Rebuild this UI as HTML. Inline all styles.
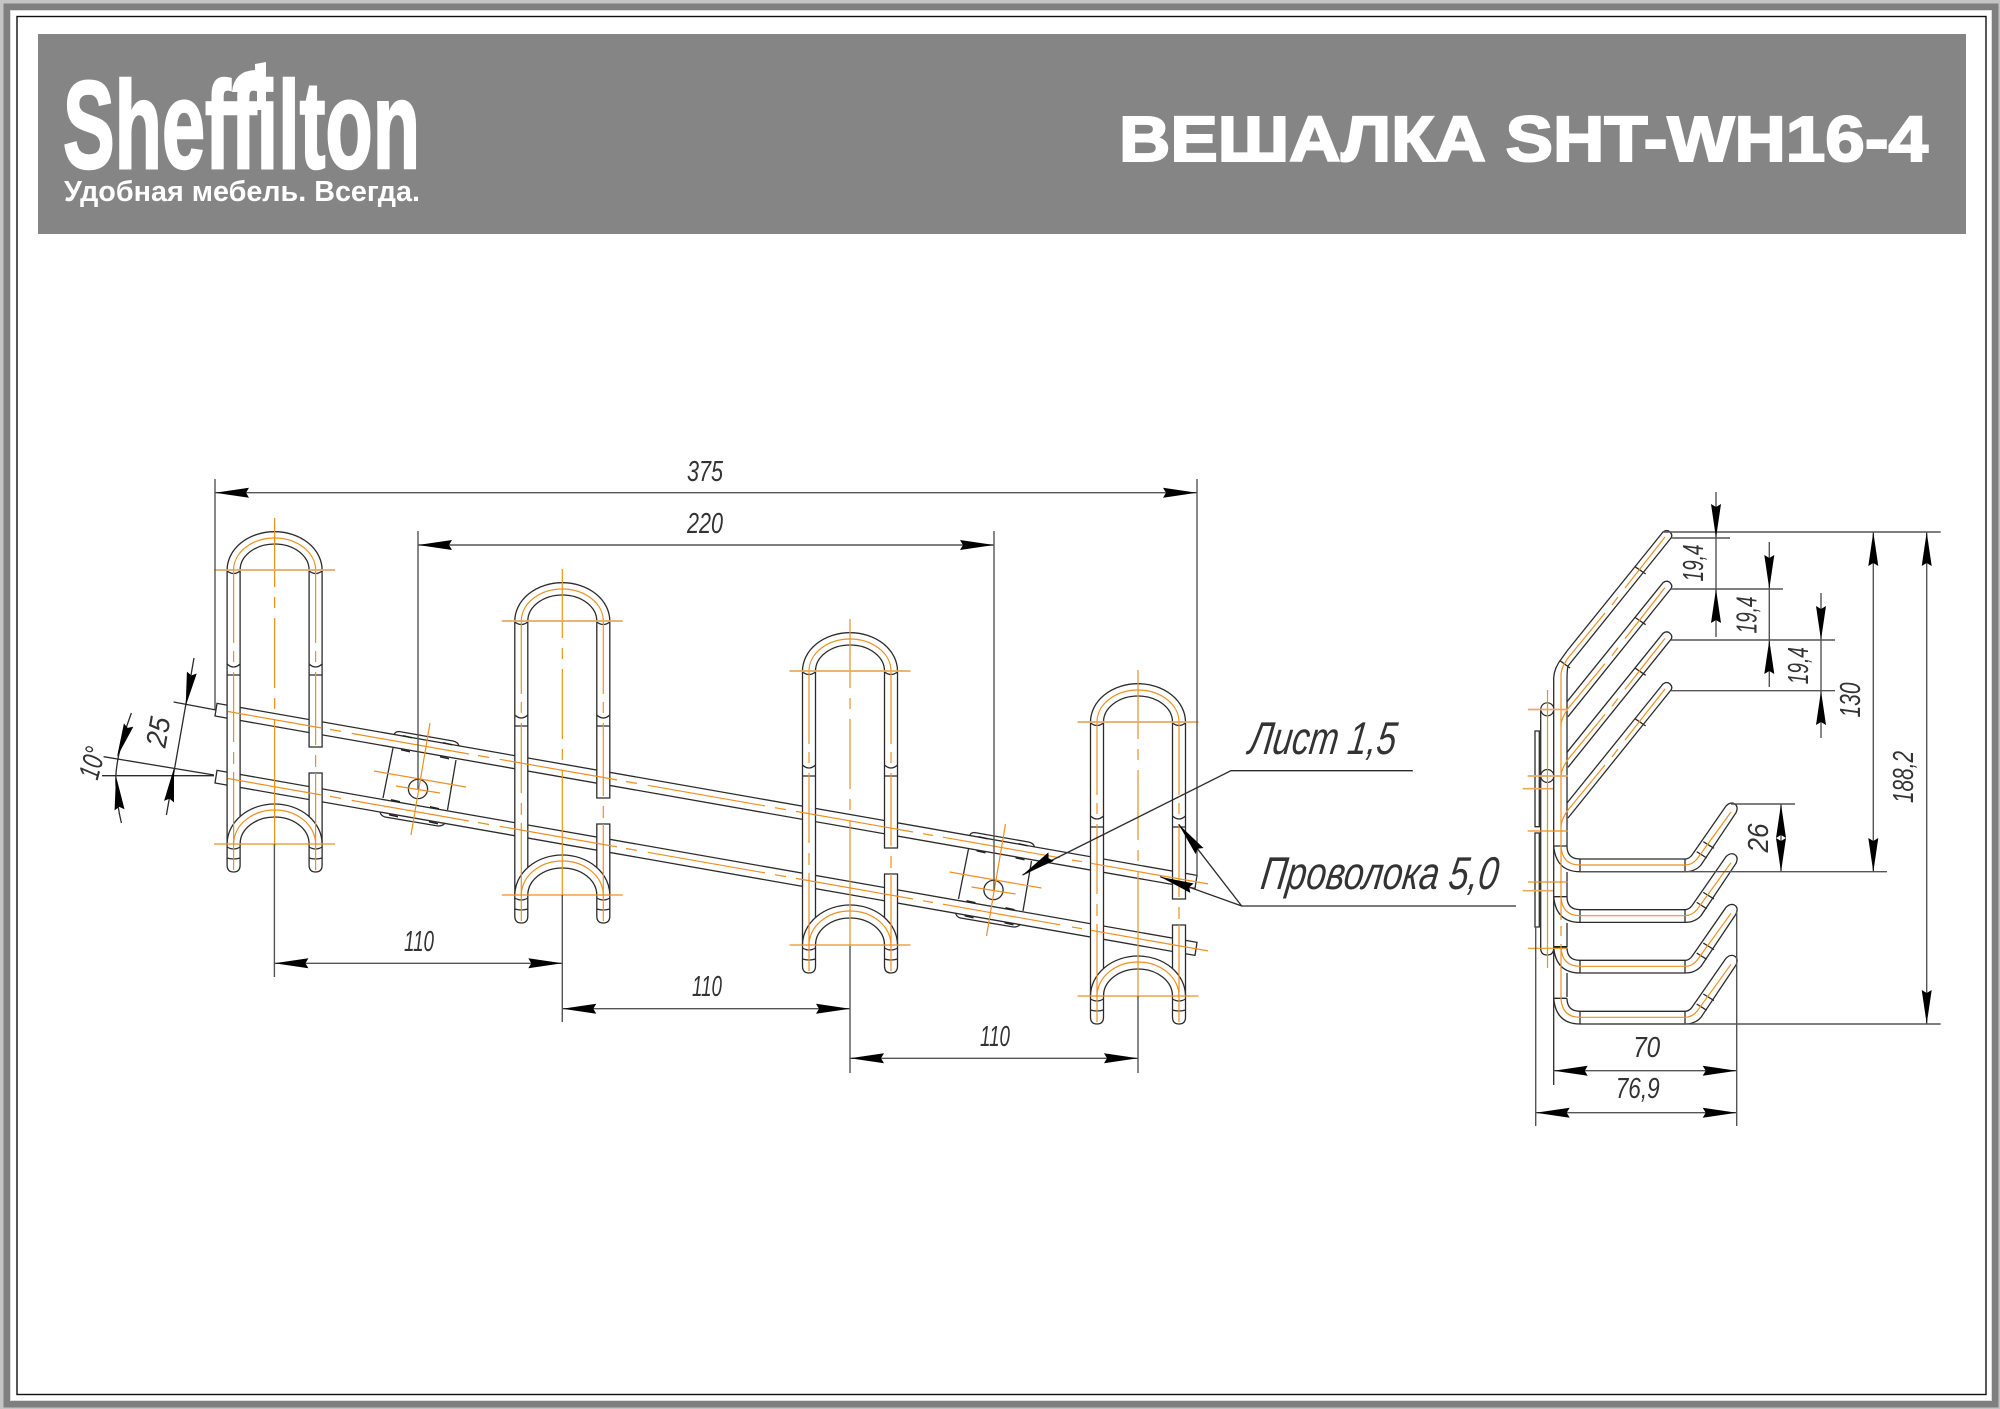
<!DOCTYPE html>
<html lang="ru"><head><meta charset="utf-8"><title>Вешалка SHT-WH16-4</title>
<style>
html,body{margin:0;padding:0;background:#fff;width:2000px;height:1409px;overflow:hidden}
svg{display:block}
.k{fill:none;stroke:#2b2b2b;stroke-width:1.3}
.g{fill:none;stroke:#555;stroke-width:1.4}
.o{fill:none;stroke:#ee9020;stroke-width:1.2}
.ol{fill:none;stroke:#e9aa60;stroke-width:1.7}
.t{font-family:"Liberation Sans",sans-serif;font-style:italic;font-size:29px;fill:#333;text-anchor:middle}
.b{font-family:"Liberation Sans",sans-serif;font-weight:bold;fill:#fff}
</style></head><body>
<svg xmlns="http://www.w3.org/2000/svg" width="2000" height="1409" viewBox="0 0 2000 1409">
<defs>
<path id="ar" d="M0,0 L34,-5 L31,0 L34,5Z" fill="#000"/>
<g id="hook">
 <path d="M-47.5,0V295Q-47.5,302 -41,302Q-34.5,302 -34.5,295V0" fill="#fff" stroke="#2b2b2b" stroke-width="1.3"/>
 <path d="M34.5,0V177H47.5V0" fill="#fff" stroke="#2b2b2b" stroke-width="1.3"/>
 <path d="M34.5,203H47.5V295Q47.5,302 41,302Q34.5,302 34.5,295Z" fill="#fff" stroke="#2b2b2b" stroke-width="1.3"/>
 <path d="M-47.5,0A47.5,38.3 0 0 1 47.5,0L34.5,0A34.5,26 0 0 0 -34.5,0Z" fill="#fff"/>
 <path d="M-47.5,0A47.5,38.3 0 0 1 47.5,0M34.5,0A34.5,26 0 0 0 -34.5,0" class="k"/>
 <path d="M-47.5,274A47.5,40 0 0 1 47.5,274L34.5,274A34.5,27 0 0 0 -34.5,274Z" fill="#fff"/>
 <path d="M-47.5,274A47.5,40 0 0 1 47.5,274M34.5,274A34.5,27 0 0 0 -34.5,274" class="k"/>
 <path class="k" d="M-47.5,1Q-41,6 -34.5,1M34.5,1Q41,6 47.5,1M-47.5,94Q-41,100 -34.5,94M34.5,94Q41,100 47.5,94M-47.5,105H-34.5M34.5,105H47.5M-47.5,277Q-41,281 -34.5,277M34.5,277Q41,281 47.5,277M-47.5,288Q-41,290 -34.5,288M34.5,288Q41,290 47.5,288"/>
 <path class="o" d="M-41,0A41,32 0 0 1 41,0M-41,274A41,34 0 0 1 41,274"/>
 <path class="o" d="M0,-52V17M0,27V38M0,48V118M0,128V139M0,149V276"/>
 <path class="o" d="M-41,0V73M-41,81V92M-41,102V172M-41,182V194M-41,202V300M41,0V73M41,81V92M41,102V175M41,185V197M41,203V300"/>
 <path class="ol" d="M-60.5,0H60.5"/>
 <path class="o" d="M-60.5,274H60.5"/>
</g>
<g id="plate">
 <path class="k" d="M393,748L383,798M456,760L447.5,810"/>
 <path class="k" d="M394,735Q395,731.5 399,731.5L453,741Q458,742 459,746M380,812Q381,816 385,817L438,826Q443,826 445,823"/>
 <path d="M403,735l9,2v1.5l-9,-2zM443,742l9,2v1.5l-9,-2zM401,749l9,2v1.5l-9,-2zM440,756l9,2v1.5l-9,-2zM391,799l9,2v1.5l-9,-2zM430,806l9,2v1.5l-9,-2zM389,814l9,2v1.5l-9,-2zM429,821l9,2v1.5l-9,-2z" fill="#222"/>
 <circle cx="418" cy="789" r="9.6" fill="#fff" stroke="#2b2b2b" stroke-width="1.3"/>
 <path class="o" d="M430,723L411,835M374,771L466,787M396,786L440,793"/>
</g>
<g id="railo">
 <path class="o" d="M228,711.5L321,727.9M330,729.4L341,731.4M351.7,733.4L469,754M478,755.5L489,757.5M499.7,759.3L617,779.9M626,781.5L637,783.4M647.7,785.3L765,805.9M775,807.7L786,809.6M796,811.4L913,832M923,833.7L933,835.5M943,837.2L1060,857.8M1072,860L1082,861.7M1091,863.3L1208,883.9"/>
</g>
<g id="finger">
 <path class="k" d="M1567,651L1663,532Q1667,529 1670,532Q1673,535 1671,538L1568,666"/>
 <path class="k" d="M1635,566.7L1645.7,574"/>
 <path class="o" d="M1665,537L1625,588M1618,597L1612,605M1605,613L1568,658Q1561,668 1561,675"/>
</g>
<g id="low">
 <path class="k" d="M1553.7,846Q1556,871.7 1580,871.7H1685Q1695,871.7 1701,865L1736,812.7Q1739,806 1734,803.5Q1730,802 1726,806L1692,855Q1689,859 1685,859H1580Q1567,859 1567,846"/>
 <path class="k" d="M1553.7,846H1567M1580,859V871.7M1685,859V871.7M1696.7,851.7L1706.7,858M1703.3,841.7L1714,848.3"/>
 <path class="o" d="M1561,846Q1562,865 1580,865H1685Q1692,865 1697,859L1731,812"/>
</g>
</defs>

<!-- frame -->
<rect width="2000" height="1409" fill="#c4c4c4"/>
<rect x="3.5" y="3.5" width="1995" height="1404" fill="#7f7f7f"/>
<rect x="10" y="10" width="1982" height="1391" fill="#dcdcdc"/>
<rect x="11" y="11" width="1980" height="1389" fill="#fff"/>
<rect x="17" y="16.5" width="1969" height="1378" fill="#fff" stroke="#111" stroke-width="1.4"/>

<!-- banner -->
<rect x="38" y="34" width="1928" height="200" fill="#858585"/>
<text class="b" x="63" y="168" font-size="124" textLength="357" lengthAdjust="spacingAndGlyphs" stroke="#fff" stroke-width="2.5">Sheffilton</text>
<path d="M255,64L266,62V110H257V84Q246,82 241,92L232,92Q234,71 255,70Z" fill="#fff"/>
<text class="b" x="64" y="201" font-size="29" textLength="356" lengthAdjust="spacingAndGlyphs">Удобная мебель. Всегда.</text>
<text class="b" x="1119" y="161" font-size="64" textLength="809" lengthAdjust="spacingAndGlyphs" stroke="#fff" stroke-width="2">ВЕШАЛКА SHT-WH16-4</text>

<!-- rails -->
<path class="k" d="M217,703.4L1197,875.4L1195,888.4L215,716Z"/>
<path class="k" d="M217,770.4L1197,942.4L1195,955.4L215,783Z"/>
<use href="#plate"/>
<use href="#plate" transform="translate(575.5,101)"/>

<!-- hooks -->
<use href="#hook" transform="translate(274.6,570)"/>
<use href="#hook" transform="translate(562.3,621)"/>
<use href="#hook" transform="translate(850,671)"/>
<use href="#hook" transform="translate(1138,722)"/>
<use href="#railo"/>
<use href="#railo" transform="translate(0,67)"/>

<!-- main dims -->
<path class="g" d="M215,479V710M1197,479V877M418,531V789M994,531V890M215,492.7H1197M418,545H994"/>
<use href="#ar" transform="translate(215,492.7)"/><use href="#ar" transform="translate(1197,492.7) rotate(180)"/>
<use href="#ar" transform="translate(418,545)"/><use href="#ar" transform="translate(994,545) rotate(180)"/>
<text class="t" x="705" y="481" textLength="36" lengthAdjust="spacingAndGlyphs">375</text>
<text class="t" x="705" y="533" textLength="36" lengthAdjust="spacingAndGlyphs">220</text>

<path class="g" d="M274.4,844V977M562.3,895V1022M850,946V1073M1138,996V1073M274.4,963.3H562.3M562.3,1008.7H850M850,1058.3H1138"/>
<use href="#ar" transform="translate(274.4,963.3)"/><use href="#ar" transform="translate(562.3,963.3) rotate(180)"/>
<use href="#ar" transform="translate(562.3,1008.7)"/><use href="#ar" transform="translate(850,1008.7) rotate(180)"/>
<use href="#ar" transform="translate(850,1058.3)"/><use href="#ar" transform="translate(1138,1058.3) rotate(180)"/>
<text class="t" x="419" y="951" textLength="30" lengthAdjust="spacingAndGlyphs">110</text>
<text class="t" x="707" y="996" textLength="30" lengthAdjust="spacingAndGlyphs">110</text>
<text class="t" x="995" y="1046" textLength="30" lengthAdjust="spacingAndGlyphs">110</text>

<!-- angle dims -->
<path class="k" d="M173.6,702L216,710M103.6,756.7L214,775M102,775.7H214M194,658L166.4,815"/>
<path class="k" d="M131.4,713Q114,760 116,785Q117,805 121.4,823"/>
<use href="#ar" transform="translate(185.7,706) rotate(-79.6)"/>
<use href="#ar" transform="translate(174,768) rotate(98.4)"/>
<use href="#ar" transform="translate(117,757) rotate(-70)"/>
<use href="#ar" transform="translate(116,776) rotate(84)"/>
<text class="t" transform="translate(158,732) rotate(-80)" y="10" textLength="30" lengthAdjust="spacingAndGlyphs">25</text>
<text class="t" transform="translate(92,763) rotate(-75)" y="10" textLength="32" lengthAdjust="spacingAndGlyphs">10°</text>

<!-- leaders -->
<path class="k" d="M1022.5,875L1231,770.7H1412.8M1178.6,824.3L1241.7,906H1516M1160,876.7L1241.7,906"/>
<use href="#ar" transform="translate(1022.5,875) rotate(-32.7)"/>
<use href="#ar" transform="translate(1178.6,824.3) rotate(52)"/>
<use href="#ar" transform="translate(1160,876.7) rotate(19.7)"/>
<text class="t" transform="translate(1321,754) skewX(-8)" style="font-size:46px" textLength="147" lengthAdjust="spacingAndGlyphs">Лист 1,5</text>
<text class="t" transform="translate(1378,889) skewX(-8)" style="font-size:46px" textLength="237" lengthAdjust="spacingAndGlyphs">Проволока 5,0</text>

<!-- side view -->
<path class="k" d="M1535,731H1539.3V826.7H1535ZM1535,833H1539.3V927H1535Z"/>
<path class="k" d="M1540.7,709V948Q1540.7,955 1547,955Q1553.7,955 1553.7,948"/>
<circle cx="1547.3" cy="709.3" r="6.5" fill="#fff" stroke="#2b2b2b" stroke-width="1.2"/>
<circle cx="1547.3" cy="776" r="6.5" fill="#fff" stroke="#2b2b2b" stroke-width="1.2"/>
<path class="k" d="M1553.7,678V1085M1567,680V846M1567,872V897M1567,923V947M1567,973V997"/>
<path class="k" d="M1567,651L1562,658Q1554,668 1553.7,678M1568,666Q1567,670 1567,680M1560,660.7L1570,668"/>
<path d="M1554,946H1567V948H1554Z" fill="#111"/>
<use href="#finger"/>
<use href="#finger" transform="translate(0,50.67)"/>
<use href="#finger" transform="translate(0,101.33)"/>
<use href="#finger" transform="translate(0,152)"/>
<use href="#low"/>
<use href="#low" transform="translate(0,50.67)"/>
<use href="#low" transform="translate(0,101.33)"/>
<use href="#low" transform="translate(0,152.3)"/>
<path class="o" d="M1561,675V920M1561,926V936M1561,944V1000M1547.5,690V968"/>
<path class="ol" d="M1528,709.5H1568M1527.7,776H1568M1522.7,788.7H1553M1522.7,890.7H1553"/>
<path class="o" d="M1527.7,831H1567.5M1528,882H1568M1528,948.3H1568"/>

<!-- side dims -->
<path class="g" d="M1663,532H1940.7M1671,538H1730M1671,589H1783M1671,640H1835M1671,690.7H1835M1731,804H1795M1580,871.7H1887M1600,1024H1940.7"/>
<path class="g" d="M1716,492V637M1769.3,542V687M1821,593V738M1873.3,532V872M1926.7,532V1024M1781,804V872M1535.7,927V1126M1736.7,912V1126M1553.7,1070.7H1736.7M1535.7,1112.7H1736.7"/>
<use href="#ar" transform="translate(1716,538) rotate(-90)"/><use href="#ar" transform="translate(1716,589) rotate(90)"/>
<use href="#ar" transform="translate(1769.3,589) rotate(-90)"/><use href="#ar" transform="translate(1769.3,640) rotate(90)"/>
<use href="#ar" transform="translate(1821,640) rotate(-90)"/><use href="#ar" transform="translate(1821,691) rotate(90)"/>
<use href="#ar" transform="translate(1873.3,532) rotate(90)"/><use href="#ar" transform="translate(1873.3,872) rotate(-90)"/>
<use href="#ar" transform="translate(1926.7,532) rotate(90)"/><use href="#ar" transform="translate(1926.7,1024) rotate(-90)"/>
<use href="#ar" transform="translate(1781,804) rotate(90)"/><use href="#ar" transform="translate(1781,872) rotate(-90)"/>
<use href="#ar" transform="translate(1553.7,1070.7)"/><use href="#ar" transform="translate(1736.7,1070.7) rotate(180)"/>
<use href="#ar" transform="translate(1535.7,1112.7)"/><use href="#ar" transform="translate(1736.7,1112.7) rotate(180)"/>
<text class="t" transform="translate(1693,563) rotate(-90)" y="10" textLength="37" lengthAdjust="spacingAndGlyphs">19,4</text>
<text class="t" transform="translate(1746.7,615) rotate(-90)" y="10" textLength="37" lengthAdjust="spacingAndGlyphs">19,4</text>
<text class="t" transform="translate(1798,665.7) rotate(-90)" y="10" textLength="37" lengthAdjust="spacingAndGlyphs">19,4</text>
<text class="t" transform="translate(1850,700) rotate(-90)" y="10" textLength="35" lengthAdjust="spacingAndGlyphs">130</text>
<text class="t" transform="translate(1903,777) rotate(-90)" y="10" textLength="52" lengthAdjust="spacingAndGlyphs">188,2</text>
<text class="t" transform="translate(1758,838) rotate(-90)" y="10" textLength="29" lengthAdjust="spacingAndGlyphs">26</text>
<text class="t" x="1646.7" y="1057" textLength="27" lengthAdjust="spacingAndGlyphs">70</text>
<text class="t" x="1637.7" y="1098" textLength="44" lengthAdjust="spacingAndGlyphs">76,9</text>
</svg>
</body></html>
